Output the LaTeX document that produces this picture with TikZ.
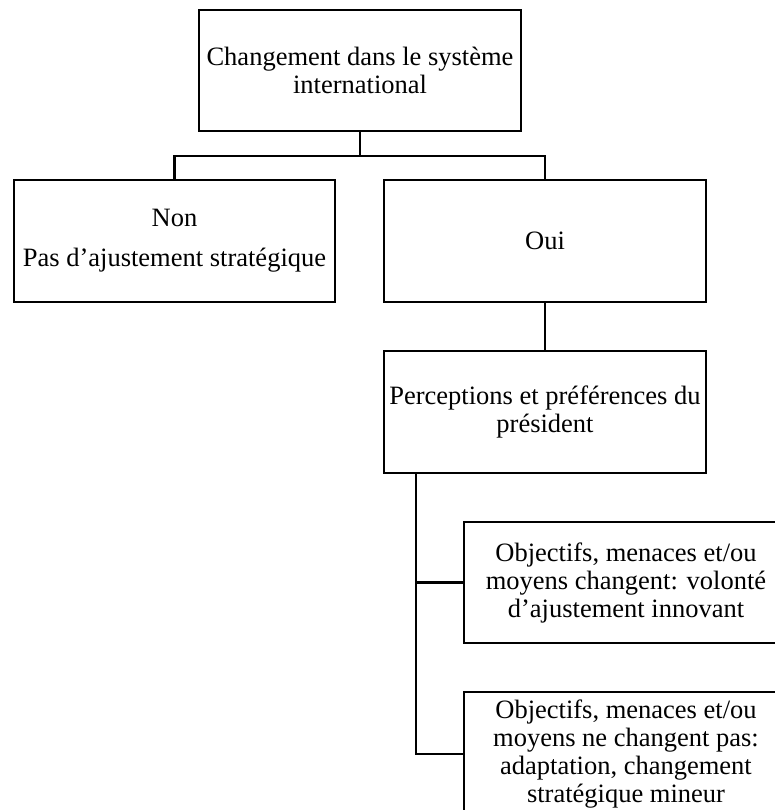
\documentclass[tikz,border=0pt]{standalone}
\usepackage{fontspec}
\setmainfont{Liberation Serif}
\begin{document}
\begin{tikzpicture}[x=1pt,y=-1pt,
  box/.style={draw,line width=2.4pt,rectangle,inner sep=0pt,align=center,
    font=\fontsize{26.5}{28}\selectfont},
  link/.style={line width=2.4pt}]
\useasboundingbox (0,0) rectangle (775,810);
\begin{scope}
\clip (0,0) rectangle (775,810);
\node[box,minimum width=322pt,minimum height=121pt] (top) at (360,70.5) {Changement dans le système\\international};
\node[box,minimum width=321pt,minimum height=122pt] (non) at (174.5,241) {Non\\[12pt]Pas d’ajustement stratégique};
\node[box,minimum width=322pt,minimum height=122pt] (oui) at (545,241) {Oui};
\node[box,minimum width=322pt,minimum height=122pt] (perc) at (545,412) {Perceptions et préférences du\\président};
\node[box,minimum width=324pt,minimum height=121pt] (obj1) at (626,582.5) {Objectifs, menaces et/ou\\moyens changent: volonté\\d’ajustement innovant};
\node[box,minimum width=324pt,minimum height=124pt] (obj2) at (626,754) {Objectifs, menaces et/ou\\moyens ne changent pas:\\adaptation, changement\\stratégique mineur};
\coordinate (j) at (360,156);
\coordinate (pv) at (416,473);
\draw[link] (top.south) -- (j);
\draw[link] (non.north) |- (j) -| (oui.north);
\draw[link] (oui.south) -- (perc.north);
\draw[link] (perc.south -| pv) |- (obj1.west);
\draw[link] (perc.south -| pv) |- (obj2.west);
\end{scope}
\end{tikzpicture}
\end{document}
